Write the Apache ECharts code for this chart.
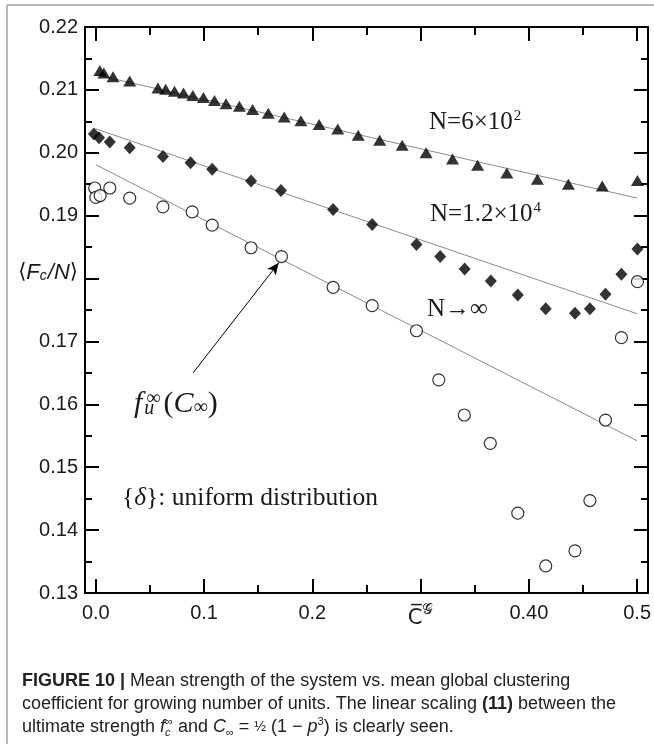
<!DOCTYPE html>
<html>
<head>
<meta charset="utf-8">
<script src="https://cdn.jsdelivr.net/npm/echarts@6/dist/echarts.min.js"></script>
<style>
  html, body { margin: 0; padding: 0; background: #fff; }
  #chart { width: 654px; height: 744px; }
</style>
</head>
<body>
<div id="chart"></div>
<script>
// Mean strength <Fc/N> vs. mean global clustering coefficient C^G

// N = 6x10^2 (triangles)
const triX = [0.0037, 0.0074, 0.0159, 0.0313, 0.0574, 0.0645, 0.0727, 0.0810, 0.0896, 0.0994,
              0.1096, 0.1203, 0.1326, 0.1448, 0.1593, 0.1740, 0.1894, 0.2063, 0.2235, 0.2424,
              0.2622, 0.2830, 0.3051, 0.3295, 0.3527, 0.3797, 0.4079, 0.4365, 0.4678, 0.5003];
const triY = [0.2131, 0.2127, 0.2121, 0.2114, 0.2103, 0.2101, 0.2098, 0.2095, 0.2091, 0.2088,
              0.2083, 0.2078, 0.2074, 0.2069, 0.2063, 0.2057, 0.2051, 0.2045, 0.2038, 0.2028,
              0.2020, 0.2012, 0.2000, 0.1990, 0.1980, 0.1968, 0.1958, 0.1950, 0.1947, 0.1956];

// N = 1.2x10^4 (diamonds)
const diaX = [-0.0018, 0.0030, 0.0129, 0.0313, 0.0620, 0.0875, 0.1075, 0.1434, 0.1710, 0.2192,
              0.2553, 0.2962, 0.3181, 0.3407, 0.3649, 0.3898, 0.4156, 0.4426, 0.4564, 0.4708,
              0.4855, 0.5003];
const diaY = [0.2030, 0.2024, 0.2017, 0.2008, 0.1994, 0.1984, 0.1974, 0.1955, 0.1940, 0.1910,
              0.1886, 0.1854, 0.1835, 0.1815, 0.1796, 0.1774, 0.1752, 0.1745, 0.1752, 0.1775,
              0.1807, 0.1847];

// N -> infinity (open circles)
const cirX = [-0.0010, 0.0000, 0.0040, 0.0129, 0.0313, 0.0620, 0.0890, 0.1075, 0.1434, 0.1715,
              0.2192, 0.2553, 0.2962, 0.3168, 0.3404, 0.3644, 0.3898, 0.4156, 0.4426, 0.4564,
              0.4708, 0.4855, 0.5003];
const cirY = [0.1944, 0.1929, 0.1932, 0.1944, 0.1928, 0.1914, 0.1906, 0.1885, 0.1849, 0.1835,
              0.1786, 0.1757, 0.1717, 0.1639, 0.1583, 0.1538, 0.1427, 0.1343, 0.1367, 0.1447,
              0.1575, 0.1706, 0.1795];

// linear scaling lines, evaluated at the ends of the C range
const fitX   = [0, 0.5];
const fitTri = [0.2124, 0.1928];
const fitDia = [0.2038, 0.1744];
const fitCir = [0.1981, 0.1542];

// arrow pointing at f_u^inf(C_inf) on the N->inf line: [tail, head]
const arrowX = [0.0898, 0.1690];
const arrowY = [0.1650, 0.1825];

// axis ticks and labels
const xMajorTicks = [0, 0.1, 0.2, 0.3, 0.4, 0.5];
const xMinorTicks = [0.05, 0.15, 0.25, 0.35, 0.45];
const xTickValues = [0, 0.1, 0.2, 0.3, 0.4, 0.5];
const xTickLabels = ['0.0', '0.1', '0.2', 'AXIS', '0.40', '0.5'];
const yTickValues = [0.13, 0.14, 0.15, 0.16, 0.17, 0.18, 0.19, 0.20, 0.21, 0.22];
const yTickLabels = ['0.13', '0.14', '0.15', '0.16', '0.17', 'AXIS', '0.19', '0.20', '0.21', '0.22'];

const zip = (xs, ys) => xs.map((x, i) => [x, ys[i]]);

const SANS = '"Liberation Sans", Arial, sans-serif';
const NARROW = '"Liberation Sans Narrow", "Arial Narrow", "Liberation Sans", sans-serif';
const SERIF = '"Liberation Serif", "Times New Roman", serif';
const INK = '#1a1a1a';

function labelFor(values, labels, v) {
  const i = values.findIndex(t => Math.abs(t - v) < 1e-6);
  return i < 0 ? '' : labels[i];
}

const tickLine = { color: '#000', width: 2 };

function xAxisDef(pos, ticks, len, withLine, withLabels) {
  return {
    type: 'value', position: pos, min: -0.01, max: 0.51,
    axisLine: { show: withLine, onZero: false, lineStyle: tickLine },
    axisTick: { show: true, inside: true, length: len, lineStyle: tickLine, customValues: ticks },
    axisLabel: withLabels ? {
      show: true, customValues: xTickValues, margin: 10,
      fontFamily: SANS, fontSize: 20, color: INK,
      formatter: v => {
        const s = labelFor(xTickValues, xTickLabels, v);
        return s === 'AXIS' ? '{c|C\u0305}{g|\uD835\uDCA2}' : s;
      },
      rich: {
        c: { fontFamily: '"DejaVu Sans", sans-serif', fontSize: 21, color: INK, lineHeight: 26, verticalAlign: 'bottom' },
        g: { fontFamily: '"DejaVu Sans", "DejaVu Serif", serif', fontSize: 15, color: INK, lineHeight: 26, verticalAlign: 'top' }
      }
    } : { show: false },
    splitLine: { show: false }
  };
}

function yAxisDef(pos, withLabels) {
  return {
    type: 'value', position: pos, min: 0.13, max: 0.22, interval: 0.01,
    axisLine: { show: true, onZero: false, lineStyle: tickLine },
    axisTick: { show: true, inside: true, length: 14, lineStyle: tickLine },
    minorTick: { show: true, splitNumber: 2, length: 7, lineStyle: tickLine },
    axisLabel: withLabels ? {
      show: true, margin: 7, fontFamily: SANS, fontSize: 20, color: INK,
      formatter: v => {
        const s = labelFor(yTickValues, yTickLabels, v);
        return s === 'AXIS' ? '{t|\u27E8}{i|F}{s|c}{i|/N}{t|\u27E9}' : s;
      },
      rich: {
        t: { fontFamily: '"DejaVu Sans", sans-serif', fontSize: 21, color: INK, lineHeight: 26, verticalAlign: 'middle', padding: [0, 0, 12, 0] },
        i: { fontFamily: SANS, fontStyle: 'italic', fontSize: 22, color: INK, lineHeight: 26, verticalAlign: 'middle', padding: [0, 0, 12, 0] },
        s: { fontFamily: SANS, fontStyle: 'italic', fontSize: 14, color: INK, lineHeight: 26, verticalAlign: 'bottom', padding: [0, 1, 8, 0] }
      }
    } : { show: false },
    splitLine: { show: false },
    minorSplitLine: { show: false }
  };
}

const fitStyle = { color: '#8c8c8c', width: 1 };

const option = {
  backgroundColor: '#fff',
  animation: false,
  grid: { left: 85, top: 27, right: 4, bottom: 151 },
  xAxis: [
    xAxisDef('bottom', xMajorTicks, 14, true, true),
    xAxisDef('bottom', xMinorTicks, 8, false, false),
    xAxisDef('top', xMajorTicks, 14, true, false),
    xAxisDef('top', xMinorTicks, 8, false, false)
  ],
  yAxis: [yAxisDef('left', true), yAxisDef('right', false)],
  series: [
    { type: 'line', data: zip(fitX, fitTri), symbol: 'none', lineStyle: fitStyle, silent: true, z: 1 },
    { type: 'line', data: zip(fitX, fitDia), symbol: 'none', lineStyle: fitStyle, silent: true, z: 1 },
    { type: 'line', data: zip(fitX, fitCir), symbol: 'none', lineStyle: fitStyle, silent: true, z: 1 },
    { type: 'scatter', name: 'N=6x10^2', data: zip(triX, triY), symbol: 'triangle', symbolSize: [13, 11],
      itemStyle: { color: '#000' }, z: 3 },
    { type: 'scatter', name: 'N=1.2x10^4', data: zip(diaX, diaY), symbol: 'diamond', symbolSize: [12, 13],
      itemStyle: { color: '#000' }, z: 3 },
    { type: 'scatter', name: 'N->inf', data: zip(cirX, cirY), symbol: 'circle', symbolSize: 12,
      itemStyle: { color: '#fff', borderColor: '#000', borderWidth: 1.2 }, z: 3 },
    // arrow drawn above the markers
    { type: 'scatter', data: [], z: 6,
      markLine: {
        silent: true, symbol: ['none', 'arrow'], symbolSize: [8, 12], z: 7,
        lineStyle: { color: '#000', width: 1, type: 'solid' },
        itemStyle: { color: '#000' },
        label: { show: false },
        data: [[{ coord: [arrowX[0], arrowY[0]] }, { coord: [arrowX[1], arrowY[1]] }]]
      } }
  ]
};

const chart = echarts.init(document.getElementById('chart'), null, { renderer: 'canvas' });
chart.setOption(option);

// annotations inside the plot (serif, like the figure's math text)
const serif = (size, extra) => Object.assign({ fontFamily: SERIF, fontSize: size, fill: INK, lineHeight: 34 }, extra || {});
function note(x, y, text, rich, base) {
  return { type: 'text', x: x, y: y, z: 10,
    style: Object.assign({ text: text, rich: rich, fill: INK, align: 'left', verticalAlign: 'middle',
      textAlign: 'left', textVerticalAlign: 'middle' }, base || {}) };
}

const captionBase = { fontFamily: SANS, fontSize: 18, fill: '#222', lineHeight: 22 };
const cap = extra => Object.assign({}, captionBase, extra || {});
const capBold = cap({ fontFamily: NARROW, fontWeight: 'bold' });

chart.setOption({
  graphic: [
    // figure frame
    { type: 'line', shape: { x1: 7, y1: 5, x2: 7, y2: 744 }, style: { stroke: '#a0a0a0', lineWidth: 1.5 }, silent: true },
    { type: 'line', shape: { x1: 7, y1: 5, x2: 654, y2: 5 }, style: { stroke: '#a0a0a0', lineWidth: 1.5 }, silent: true },

    note(429, 122, '{n|N=6\u00D710}{p|2}', {
      n: serif(25, { verticalAlign: 'middle' }), p: serif(15, { verticalAlign: 'top', padding: [4, 0, 0, 1] }) }),
    note(430, 214, '{n|N=1.2\u00D710}{p|4}', {
      n: serif(25, { verticalAlign: 'middle' }), p: serif(15, { verticalAlign: 'top', padding: [4, 0, 0, 1] }) }),
    note(427, 309, '{n|N\u2192\u221E}', { n: serif(25) }),
    note(134, 404, '{f|f}{u|u}{p|\u221E}{n|(}{f|C}{s|\u221E}{n|)}', {
      f: serif(30, { fontStyle: 'italic' }),
      u: serif(20, { fontStyle: 'italic', verticalAlign: 'bottom', width: 0.01, padding: [0, 0, 2, 2] }),
      p: serif(20, { verticalAlign: 'top', padding: [2, 3, 0, 2] }),
      n: serif(30),
      s: serif(20, { verticalAlign: 'bottom', padding: [0, 0, 3, 0] }) }),
    note(122, 498, '{{d|\u03B4}}: uniform distribution', { d: serif(25.5, { fontStyle: 'italic' }) },
      { font: '25.5px "Liberation Serif", serif' }),

    // caption
    { type: 'text', x: 22, y: 681, style: { verticalAlign: 'middle', textVerticalAlign: 'middle',
      text: '{b|FIGURE 10 |}{n| Mean strength of the system vs. mean global clustering}',
      rich: { b: capBold, n: cap() } } },
    { type: 'text', x: 22, y: 704, style: { verticalAlign: 'middle', textVerticalAlign: 'middle',
      text: '{n|coefficient for growing number of units. The linear scaling }{b|(11)}{n| between the}',
      rich: { b: capBold, n: cap() } } },
    { type: 'text', x: 22, y: 727, style: { verticalAlign: 'middle', textVerticalAlign: 'middle',
      text: '{n|ultimate strength }{i|f}{sb|c}{sp|\u221E}{n| and }{i|C}{sb2|\u221E}{n| = }{fr|\u00BD}{n| (1 \u2212 }{i|p}{sp|3}{n|) is clearly seen.}',
      rich: {
        n: cap(), i: cap({ fontStyle: 'italic' }),
        sb: cap({ fontSize: 11, fontStyle: 'italic', verticalAlign: 'bottom', width: 0.01 }),
        sb2: cap({ fontSize: 11, verticalAlign: 'bottom' }),
        sp: cap({ fontSize: 11, verticalAlign: 'top' }),
        fr: cap({ fontSize: 14 })
      } } }
  ]
});
</script>
</body>
</html>
